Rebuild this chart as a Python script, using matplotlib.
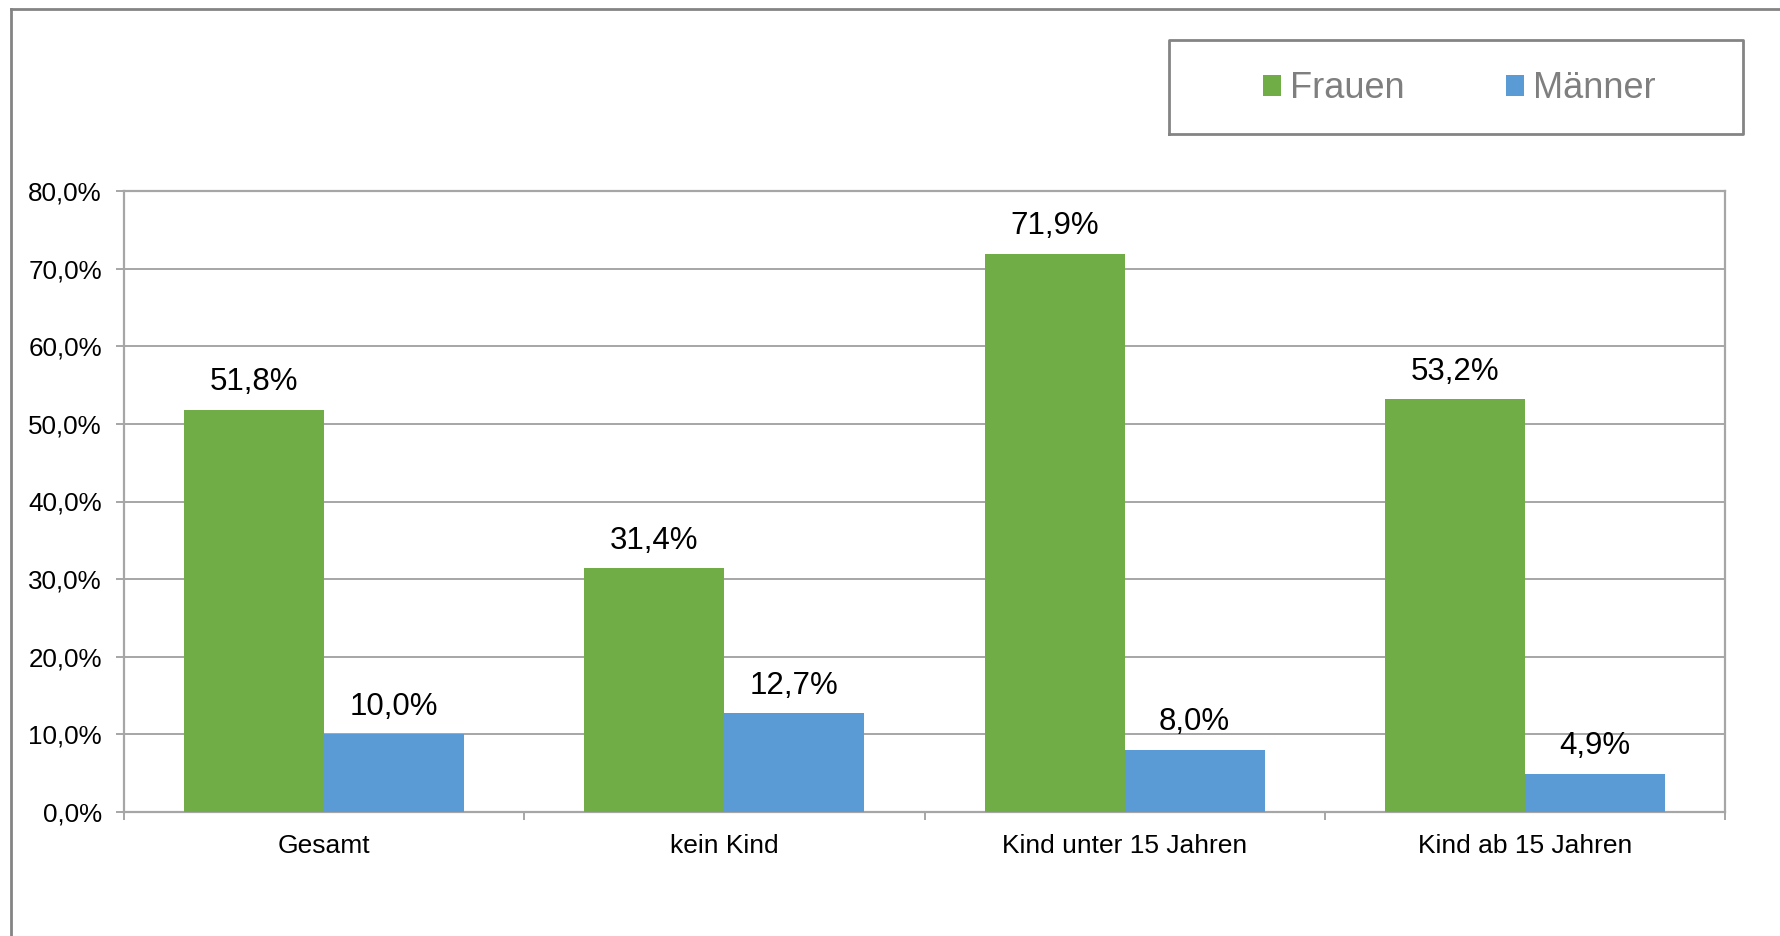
import matplotlib
matplotlib.use("Agg")
import matplotlib.pyplot as plt
import matplotlib.ticker as ticker
from matplotlib.lines import Line2D
import numpy as np

categories = ["Gesamt", "kein Kind", "Kind unter 15 Jahren", "Kind ab 15 Jahren"]
frauen = [51.8, 31.4, 71.9, 53.2]
maenner = [10.0, 12.7, 8.0, 4.9]
series_names = ["Frauen", "Männer"]
y_ticks = [0, 10, 20, 30, 40, 50, 60, 70, 80]

green = "#70AD47"
blue = "#5B9BD5"
grid_gray = "#A6A6A6"
frame_gray = "#848484"


def de(v):
    return f"{v:.1f}%".replace(".", ",")


def main():
    plt.rcParams["font.family"] = ["Liberation Sans", "DejaVu Sans"]
    W, H = 1780, 936
    fig = plt.figure(figsize=(W / 100, H / 100), dpi=100)
    ax = fig.add_axes([124 / W, 1 - 812 / H, (1725 - 124) / W, (812 - 191) / H])

    x = np.arange(len(categories))
    bw = 0.35
    b1 = ax.bar(x - bw / 2, frauen, bw, color=green, label=series_names[0], zorder=3)
    b2 = ax.bar(x + bw / 2, maenner, bw, color=blue, label=series_names[1], zorder=3)

    for bars, vals in ((b1, frauen), (b2, maenner)):
        for r, v in zip(bars, vals):
            ax.annotate(de(v), (r.get_x() + r.get_width() / 2, v), xytext=(0, 9),
                        textcoords="offset points", ha="center", va="bottom",
                        fontsize=22.5, color="black")

    ax.set_xlim(-0.5, len(categories) - 0.5)
    ax.set_ylim(0, 80)
    ax.set_yticks(y_ticks)
    ax.yaxis.set_major_formatter(ticker.FuncFormatter(lambda v, p: de(v)))
    ax.set_xticks(x)
    ax.set_xticklabels(categories, fontsize=19)
    ax.set_xticks(np.arange(len(categories) + 1) - 0.5, minor=True)
    ax.tick_params(axis="x", which="major", length=0, pad=16)
    ax.tick_params(axis="x", which="minor", length=6, width=1.4, color=grid_gray)
    ax.tick_params(axis="y", length=6, width=1.4, color=grid_gray, labelsize=18.7, pad=10)
    ax.grid(axis="y", color=grid_gray, lw=1.4, zorder=0)
    for s in ax.spines.values():
        s.set_color(grid_gray)
        s.set_linewidth(1.6)

    # outer chart frame (cut at right and bottom)
    fig.add_artist(Line2D([11 / W, 1], [1 - 9 / H, 1 - 9 / H], color=frame_gray, lw=2))
    fig.add_artist(Line2D([11 / W, 11 / W], [0, 1 - 9 / H], color=frame_gray, lw=2))

    # legend box
    bx0, bx1, by0, by1 = 1169 / W, 1743 / W, 1 - 134 / H, 1 - 40 / H
    fig.add_artist(Line2D([bx0, bx1, bx1, bx0, bx0], [by0, by0, by1, by1, by0],
                          color=frame_gray, lw=2))
    leg = fig.legend(loc="center", bbox_to_anchor=(1459 / W, 1 - 89 / H), ncol=2,
                     frameon=False, fontsize=26, handlelength=0.5, handleheight=0.5,
                     handletextpad=0.25, columnspacing=2.8, borderpad=0)
    for t in leg.get_texts():
        t.set_color("#7F7F7F")

    fig.savefig("out.png", dpi=100)


if __name__ == "__main__":
    main()
